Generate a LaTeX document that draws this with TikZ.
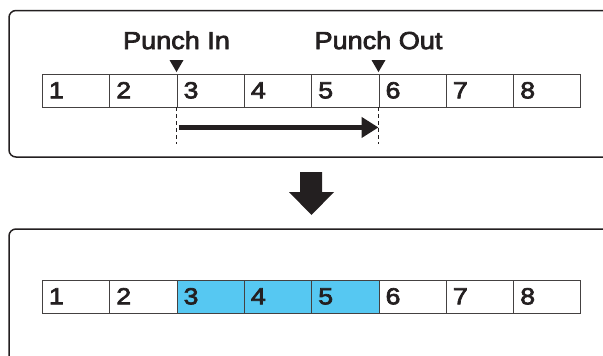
\documentclass[tikz,border=0pt]{standalone}
\usepackage{fontspec}
\setmainfont{Liberation Sans}
\newfontfamily\lblfont[FakeBold=3,FakeStretch=1.1]{Liberation Sans}
\newfontfamily\digfont[FakeBold=3,FakeStretch=1.15]{Liberation Sans}
\usetikzlibrary{arrows.meta,calc}
\definecolor{ink}{RGB}{35,31,32}
\definecolor{hl}{RGB}{86,200,242}
\begin{document}
\begin{tikzpicture}[x=1pt,y=-1pt,
  panel/.style={draw=ink,line width=1.5pt,rounded corners=7pt},
  cell/.style={draw=ink!85,line width=0.9pt,minimum width=67.33pt,minimum height=33pt,
    text width=54pt,align=left,inner xsep=6.5pt,text height=15.6pt,text depth=0pt,
    font=\digfont\fontsize{23.2}{27}\selectfont,text=ink},
  hlcell/.style={cell,fill=hl},
  lbl/.style={font=\lblfont\fontsize{24.6}{29}\selectfont,text=ink,inner sep=0pt},
  guide/.style={draw=ink,line width=1.3pt,dash pattern=on 4pt off 3pt},
  marker/.style={fill=ink}]
\useasboundingbox (0,0) rectangle (603,356);
% panels
\draw[panel] (9,10.5) rectangle (625,157);
\draw[panel] (9,229) rectangle (625,380);
% top row
\foreach \i in {1,...,8}
  \node[cell] (t\i) at ({42.3+(\i-0.5)*67.33},90.5) {\i};
% bottom row
\foreach \i in {1,2,6,7,8}
  \node[cell] (b\i) at ({42.3+(\i-0.5)*67.33},296.5) {\i};
\foreach \i in {3,4,5}
  \node[hlcell] (b\i) at ({42.3+(\i-0.5)*67.33},296.5) {\i};
% markers
\fill[marker] ($(t3.north west)+(0,-1.5)$) -- ++(-7,-12) -- ++(14,0) -- cycle;
\fill[marker] ($(t6.north west)+(0,-1.5)$) -- ++(-7,-12) -- ++(14,0) -- cycle;
% labels
\node[lbl,anchor=base] (pin) at ($(t3.north west)+(0,-24.5)$) {Punch In};
\node[lbl,anchor=base] (pout) at ($(t6.north west)+(0,-24.5)$) {Punch Out};
% guides
\coordinate (g1) at ($(t3.south west)+(0,37)$);
\coordinate (g2) at ($(t6.south west)+(0,37)$);
\draw[guide] (t3.south west) -- (g1);
\draw[guide] (t6.south west) -- (g2);
% range arrow
\coordinate (as) at ($(t3.south west)+(2,20)$);
\coordinate (ae) at ($(t6.south west)+(0,20)$);
\draw[ink,line width=4.5pt,-{Triangle[length=17pt,width=20pt]}] (as) -- (ae);
% big down arrow
\fill[ink] (300,172) -- (322,172) -- (322,192) -- (334,192) -- (311.5,215)
  -- (289,192) -- (300,192) -- cycle;
\end{tikzpicture}
\end{document}
